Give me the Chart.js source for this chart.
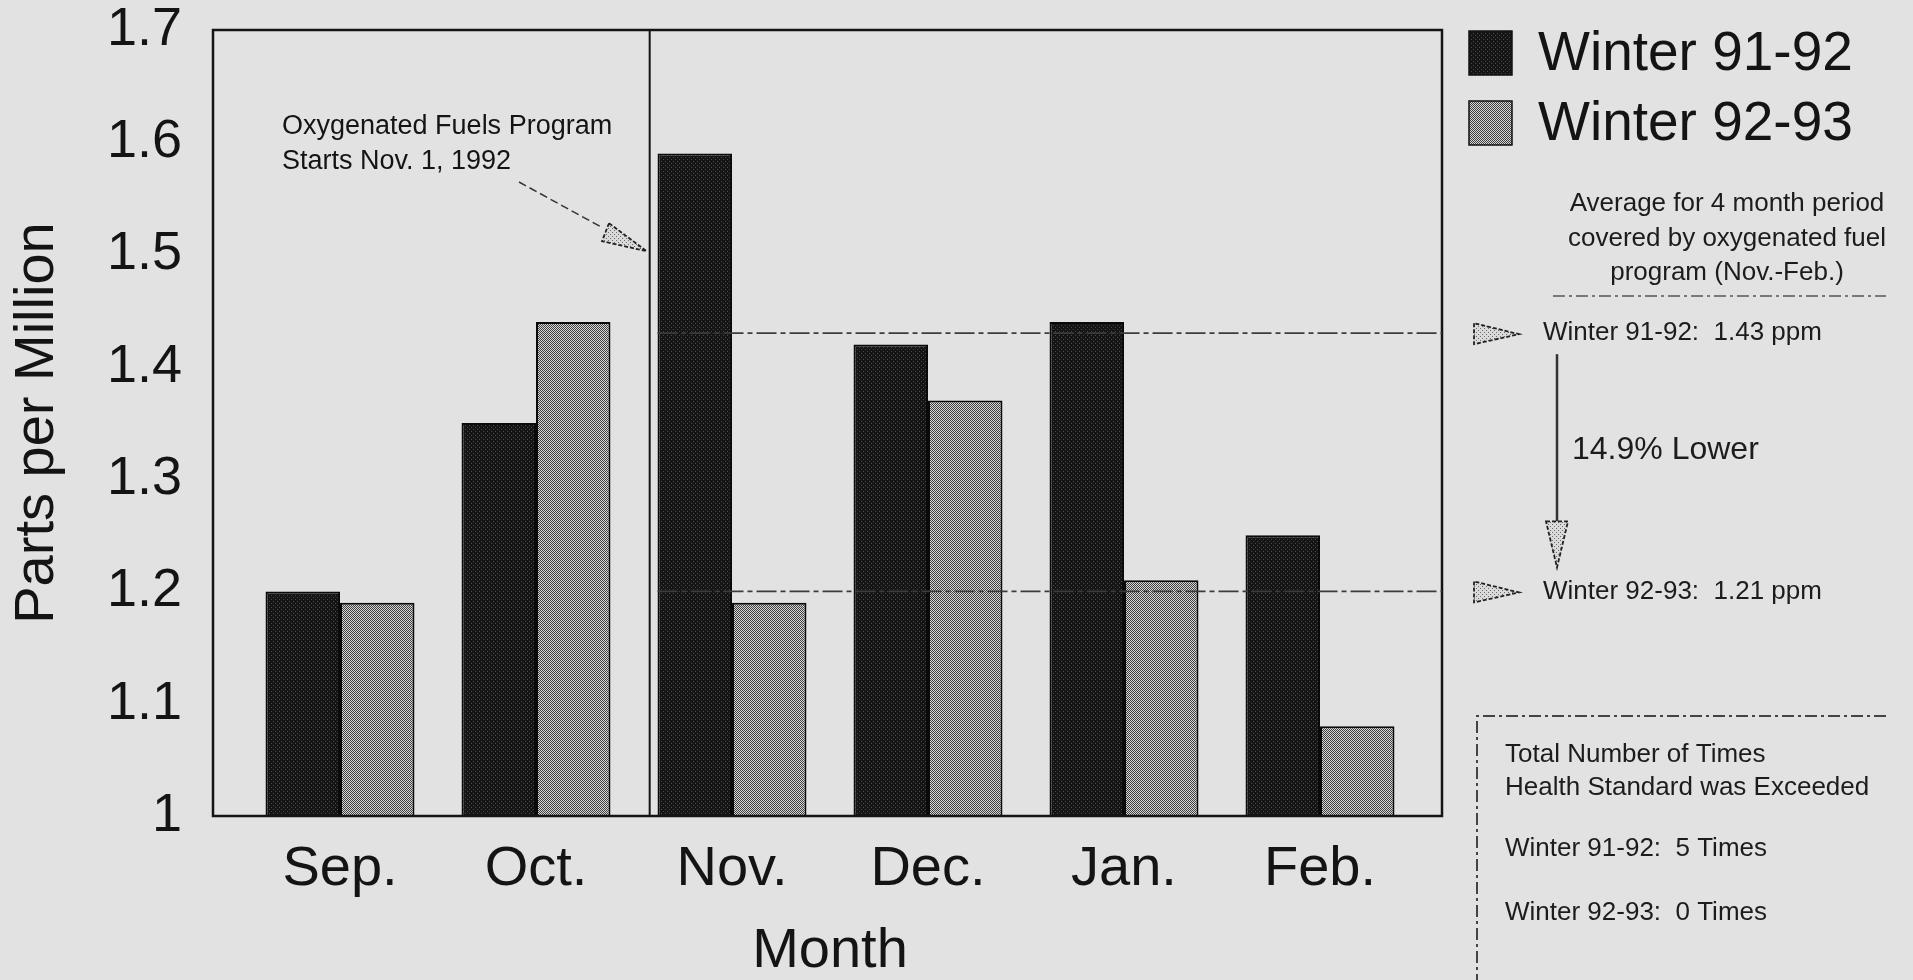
<!DOCTYPE html>
<html>
<head>
<meta charset="utf-8">
<title>Carbon Monoxide - Winter 91-92 vs Winter 92-93</title>
<script src="https://cdn.jsdelivr.net/npm/chart.js@4.4.1/dist/chart.umd.min.js"></script>
<style>
  html, body { margin: 0; padding: 0; background: #e2e2e2; }
  #wrap { width: 1913px; height: 980px; }
</style>
</head>
<body>
<div id="wrap"><canvas id="coChart" width="1913" height="980"></canvas></div>
<script>
// values
const months = ["Sep.", "Oct.", "Nov.", "Dec.", "Jan.", "Feb."];
const winter9192 = [1.20, 1.35, 1.59, 1.42, 1.44, 1.25];
const winter9293 = [1.19, 1.44, 1.19, 1.37, 1.21, 1.08];
const seriesNames = ["Winter 91-92", "Winter 92-93"];
const yTickValues = [1, 1.1, 1.2, 1.3, 1.4, 1.5, 1.6, 1.7];
const yTickLabels = ["1", "1.1", "1.2", "1.3", "1.4", "1.5", "1.6", "1.7"];

// Nov.-Feb. averages, where the dashed lines sit and what the notes say
const averageLines = [1.43, 1.20];
const averageTexts = ["Winter 91-92:  1.43 ppm", "Winter 92-93:  1.21 ppm"];
const exceedTexts = ["Winter 91-92:  5 Times", "Winter 92-93:  0 Times"];
const programStart = 1.58; // on the month axis, just before Nov.

const FONT = "'Liberation Sans', Arial, Helvetica, sans-serif";
const INK = "#141414";

const canvas = document.getElementById("coChart");
const ctx = canvas.getContext("2d");

//small halftone tiles so the bars look like the printed screens
function halftone(base, dot, cells) {
  const c = document.createElement("canvas");
  c.width = 4;
  c.height = 4;
  const g = c.getContext("2d");
  g.fillStyle = base;
  g.fillRect(0, 0, 4, 4);
  g.fillStyle = dot;
  cells.forEach(([cx, cy]) => g.fillRect(cx, cy, 1, 1));
  return ctx.createPattern(c, "repeat");
}

const darkFill = halftone("#151515", "#4a4a4a", [[1, 1], [3, 3]]);
const lightFill = halftone("#d8d8d8", "#3e3e3e", [[0, 0], [2, 0], [1, 1], [3, 1], [0, 2], [2, 2], [1, 3], [3, 3]]);
const paleFill = halftone("#dadada", "#6a6a6a", [[0, 0], [2, 2]]);

function triangle(c, pts) {
  c.beginPath();
  c.moveTo(pts[0][0], pts[0][1]);
  c.lineTo(pts[1][0], pts[1][1]);
  c.lineTo(pts[2][0], pts[2][1]);
  c.closePath();
  c.fillStyle = paleFill;
  c.fill();
  c.setLineDash([4, 2]);
  c.lineWidth = 1.8;
  c.strokeStyle = "#222";
  c.stroke();
  c.setLineDash([]);
}

const paperAndNotes = {
  id: "paperAndNotes",
  beforeDraw(chart) {
    const c = chart.ctx;
    c.save();
    c.fillStyle = "#e2e2e2";
    c.fillRect(0, 0, chart.width, chart.height);
    c.restore();
  },
  afterDatasetsDraw(chart) {
    const c = chart.ctx;
    const a = chart.chartArea;
    const x = chart.scales.x;
    const y = chart.scales.y;
    const left = a.left - 29;
    const right = a.right + 24;

    c.save();

    // frame round the plot
    c.strokeStyle = INK;
    c.lineWidth = 2.5;
    c.strokeRect(left, a.top, right - left, a.bottom - a.top);

    // start of the oxygenated fuels program
    const px = x.getPixelForValue(programStart);
    c.lineWidth = 2;
    c.beginPath();
    c.moveTo(px, a.top);
    c.lineTo(px, a.bottom);
    c.stroke();

    // average lines for Nov.-Feb.
    const novBar = chart.getDatasetMeta(0).data[2];
    const lineStart = novBar.x - novBar.width / 2;
    c.strokeStyle = "#3c3c3c";
    c.lineWidth = 1.8;
    c.setLineDash([20, 4, 5, 4]);
    averageLines.forEach((v) => {
      const py = y.getPixelForValue(v);
      c.beginPath();
      c.moveTo(lineStart, py);
      c.lineTo(right, py);
      c.stroke();
    });
    c.setLineDash([]);

    // note about the program
    c.fillStyle = INK;
    c.font = "27px " + FONT;
    c.textAlign = "left";
    c.textBaseline = "middle";
    c.fillText("Oxygenated Fuels Program", 282, 127);
    c.fillText("Starts Nov. 1, 1992", 282, 162);

    const tipY = y.getPixelForValue(1.503);
    c.strokeStyle = "#333";
    c.lineWidth = 1.5;
    c.setLineDash([8, 4]);
    c.beginPath();
    c.moveTo(519, 182);
    c.lineTo(603, 228);
    c.stroke();
    c.setLineDash([]);
    triangle(c, [[609, tipY - 28], [602, tipY - 10], [px - 3, tipY]]);

    // legend, right of the frame
    const fills = [darkFill, lightFill];
    chart.data.datasets.forEach((ds, i) => {
      const top = 31 + i * 70;
      c.fillStyle = fills[i];
      c.fillRect(1469, top, 43, 44);
      c.strokeStyle = "#111";
      c.lineWidth = 1.5;
      c.strokeRect(1469, top, 43, 44);
      c.fillStyle = INK;
      c.font = "55px " + FONT;
      c.textAlign = "left";
      c.textBaseline = "middle";
      c.fillText(ds.label, 1538, top + 24);
    });

    // averages panel
    c.fillStyle = "#1c1c1c";
    c.font = "26px " + FONT;
    c.textAlign = "center";
    c.fillText("Average for 4 month period", 1727, 204);
    c.fillText("covered by oxygenated fuel", 1727, 239);
    c.fillText("program (Nov.-Feb.)", 1727, 273);

    c.strokeStyle = "#555";
    c.lineWidth = 1.5;
    c.setLineDash([12, 4, 3, 4]);
    c.beginPath();
    c.moveTo(1553, 296);
    c.lineTo(1886, 296);
    c.stroke();
    c.setLineDash([]);

    const avgY = averageLines.map((v) => y.getPixelForValue(v));
    avgY.forEach((py, i) => {
      triangle(c, [[1474, py - 10], [1474, py + 11], [1519, py + 1]]);
      c.fillStyle = "#1c1c1c";
      c.font = "26px " + FONT;
      c.textAlign = "left";
      c.fillText(averageTexts[i], 1543, py);
    });

    c.strokeStyle = "#333";
    c.lineWidth = 2.5;
    c.beginPath();
    c.moveTo(1557, avgY[0] + 21);
    c.lineTo(1557, avgY[1] - 70);
    c.stroke();
    triangle(c, [[1546, avgY[1] - 70], [1568, avgY[1] - 70], [1557, avgY[1] - 24]]);

    c.fillStyle = "#1c1c1c";
    c.font = "32px " + FONT;
    c.textAlign = "left";
    c.fillText("14.9% Lower", 1572, 450);

    // health standard box
    c.strokeStyle = "#444";
    c.lineWidth = 2;
    c.setLineDash([12, 4, 3, 4]);
    c.beginPath();
    c.moveTo(1886, 716);
    c.lineTo(1477, 716);
    c.lineTo(1477, 980);
    c.stroke();
    c.setLineDash([]);

    c.fillStyle = "#1c1c1c";
    c.font = "26px " + FONT;
    c.fillText("Total Number of Times", 1505, 755);
    c.fillText("Health Standard was Exceeded", 1505, 788);
    c.fillText(exceedTexts[0], 1505, 849);
    c.fillText(exceedTexts[1], 1505, 913);

    c.restore();
  },
};

new Chart(ctx, {
  type: "bar",
  data: {
    labels: months,
    datasets: [
      {
        label: seriesNames[0],
        data: winter9192,
        backgroundColor: darkFill,
        borderColor: "#0a0a0a",
        borderWidth: 2,
        borderSkipped: false,
      },
      {
        label: seriesNames[1],
        data: winter9293,
        backgroundColor: lightFill,
        borderColor: "#0a0a0a",
        borderWidth: 2,
        borderSkipped: false,
      },
    ],
  },
  options: {
    responsive: false,
    devicePixelRatio: 1,
    animation: false,
    barPercentage: 1,
    categoryPercentage: 0.76,
    layout: { padding: { top: 30, right: 495, left: 0, bottom: 0 } },
    plugins: {
      legend: { display: false },
      tooltip: { enabled: false },
    },
    scales: {
      x: {
        grid: { display: false, drawTicks: false },
        border: { display: false },
        ticks: {
          color: INK,
          font: { family: FONT, size: 56, lineHeight: 1 },
          padding: 26,
          maxRotation: 0,
          autoSkip: false,
        },
        title: {
          display: true,
          text: "Month",
          color: INK,
          font: { family: FONT, size: 56, lineHeight: 1 },
          padding: 0,
        },
        afterFit: (s) => {
          s.height = 164;
        },
      },
      y: {
        min: 1,
        max: 1.7,
        afterBuildTicks: (s) => {
          s.ticks = yTickValues.map((v) => ({ value: v }));
        },
        grid: { display: false, drawTicks: false },
        border: { display: false },
        ticks: {
          color: INK,
          font: { family: FONT, size: 54, lineHeight: 1 },
          padding: 60,
          callback: (v, i) => yTickLabels[i],
        },
        title: {
          display: true,
          text: "Parts per Million",
          color: INK,
          font: { family: FONT, size: 56, lineHeight: 1.2 },
          padding: { top: 4, bottom: 0 },
        },
        afterFit: (s) => {
          s.width = 242;
          // the big label gap should not push the plot down
          s.paddingTop = 0;
          s.paddingBottom = 0;
        },
      },
    },
  },
  plugins: [paperAndNotes],
});
</script>
</body>
</html>
